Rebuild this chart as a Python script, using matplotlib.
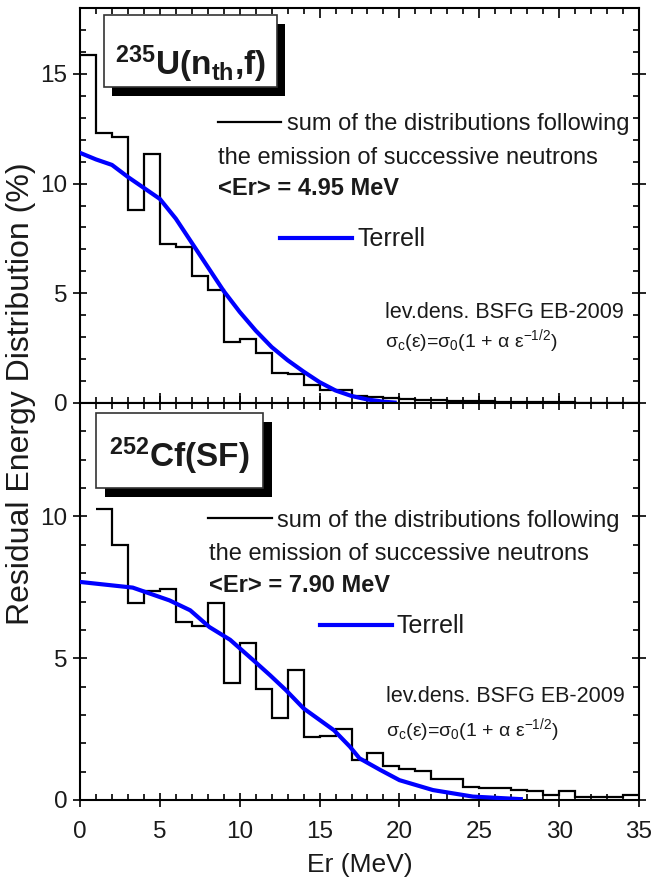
import matplotlib
matplotlib.use("Agg")
import matplotlib.pyplot as plt
import numpy as np
from matplotlib.patches import Rectangle
from matplotlib.lines import Line2D
from matplotlib.ticker import MultipleLocator

plt.rcParams['font.family'] = ['Liberation Sans', 'DejaVu Sans']
plt.rcParams['mathtext.default'] = 'regular'

# ---------------- data ----------------
# 235U(nth,f): histogram, 1 MeV bins from 0 to 35 MeV
u_edges = list(range(0, 36))
u_hist = [15.85, 12.3, 12.1, 8.8, 11.35, 7.25, 7.1, 5.8, 5.15, 2.8,
          2.93, 2.27, 1.38, 1.32, 0.84, 0.61, 0.6, 0.33, 0.26, 0.21,
          0.18, 0.15, 0.13, 0.11, 0.09, 0.07, 0.06, 0.05, 0.04, 0.03,
          0.03, 0.02, 0.02, 0.01, 0.01]
u_terrell_x = [0, 1, 2, 3, 4, 5, 6, 7, 8, 9, 10, 11, 12, 13, 14, 15, 16, 17, 18, 19, 19.7]
u_terrell_y = [11.4, 11.1, 10.85, 10.3, 9.8, 9.3, 8.4, 7.3, 6.2, 5.1, 4.15, 3.3, 2.55,
               1.95, 1.43, 0.95, 0.57, 0.32, 0.16, 0.06, 0.02]

# 252Cf(SF): histogram, 1 MeV bins from 1 to 35 MeV
cf_edges = list(range(1, 36))
cf_hist = [10.27, 8.98, 6.95, 7.36, 7.45, 6.28, 6.13, 6.96, 4.11, 5.55,
           3.90, 2.88, 4.58, 2.23, 2.25, 2.5, 1.41, 1.64, 1.21, 1.09,
           1.03, 0.74, 0.74, 0.47, 0.43, 0.41, 0.35, 0.30, 0.18, 0.32,
           0.09, 0.09, 0.09, 0.18]
cf_terrell_x = [0, 3.3, 5.6, 6.9, 8.1, 9.4, 10.85, 11.9, 12.9, 14.0, 15.9, 16.9,
                17.5, 18.8, 20.0, 22.1, 24.6, 27.6]
cf_terrell_y = [7.69, 7.49, 7.04, 6.69, 6.10, 5.65, 4.93, 4.40, 3.87, 3.23, 2.46, 1.88,
                1.47, 1.06, 0.70, 0.35, 0.12, 0.03]

x_ticks = [0, 5, 10, 15, 20, 25, 30, 35]
u_yticks = [0, 5, 10, 15]
cf_yticks = [0, 5, 10]

# ---------------- figure ----------------
W, H = 651, 889
fig = plt.figure(figsize=(W / 100, H / 100), dpi=100)

def P(px, py):
    return (px / W, 1 - py / H)

ax1 = fig.add_axes([80 / W, 1 - 403 / H, 559 / W, 395 / H])
ax2 = fig.add_axes([80 / W, 1 - 800 / H, 559 / W, 397 / H])

TXT = '#1a1a1a'

for ax, edges, hist, tx, ty, ylim, yt in [
        (ax1, u_edges, u_hist, u_terrell_x, u_terrell_y, 18, u_yticks),
        (ax2, cf_edges, cf_hist, cf_terrell_x, cf_terrell_y, 14, cf_yticks)]:
    ax.stairs(hist, edges, baseline=None, color='black', lw=1.6, zorder=3)
    ax.plot(tx, ty, color='#0000ff', lw=3.0, zorder=4)
    ax.set_xlim(0, 35)
    ax.set_ylim(0, ylim)
    ax.set_xticks(x_ticks)
    ax.set_yticks(yt)
    ax.xaxis.set_minor_locator(MultipleLocator(1))
    ax.yaxis.set_minor_locator(MultipleLocator(1))
    for s in ax.spines.values():
        s.set_linewidth(1.5)
    ax.tick_params(which='both', direction='in', top=True, right=True,
                   width=1.2, colors='black', labelcolor=TXT, labelsize=17.5)
    ax.tick_params(which='major', length=7)
    ax.tick_params(which='minor', length=4.5)
    ax.tick_params(axis='y', which='major', direction='inout', length=10, pad=4)

ax1.tick_params(axis='x', labelbottom=False)
ax2.tick_params(axis='x', which='major', direction='inout', length=10, pad=10)

# ---------------- boxes ----------------
def box(x0, y0, x1, y1, dx, dy):
    a = P(x0 + dx, y1 + dy)
    sh = Rectangle(a, (x1 - x0) / W, (y1 - y0) / H, transform=fig.transFigure,
                   facecolor='black', edgecolor='black', lw=0, zorder=5)
    b = P(x0, y1)
    fr = Rectangle(b, (x1 - x0) / W, (y1 - y0) / H, transform=fig.transFigure,
                   facecolor='white', edgecolor='#333333', lw=1.2, zorder=6)
    fig.add_artist(sh)
    fig.add_artist(fr)

box(104, 15, 277, 87, 8, 9)
box(96, 413, 263, 488, 9, 9)

fig.text(*P(190, 75), r'$^\mathregular{235}$U(n$_\mathregular{th}$,f)', fontsize=24,
         fontweight='bold', ha='center', va='baseline', color=TXT, zorder=7)
fig.text(*P(179.5, 467), r'$^\mathregular{252}$Cf(SF)', fontsize=24,
         fontweight='bold', ha='center', va='baseline', color=TXT, zorder=7)

# ---------------- annotations ----------------
def hline(x0, x1, y, color, lw):
    a, b = P(x0, y), P(x1, y)
    fig.add_artist(Line2D([a[0], b[0]], [a[1], b[1]], color=color, lw=lw,
                          transform=fig.transFigure, zorder=7))

def t(px, py, s, fs, bold=False):
    fig.text(*P(px, py), s, fontsize=fs, fontweight='bold' if bold else 'normal',
             ha='left', va='baseline', color=TXT, zorder=7)

formula = r'σ$_\mathregular{c}$(ε)=σ$_\mathregular{0}$(1 + α ε$^\mathregular{-1/2}$)'

# top panel
hline(218, 281, 122, 'black', 1.6)
t(287, 130, 'sum of the distributions following', 17)
t(218, 164, 'the emission of successive neutrons', 17)
t(218, 195, '<Er> = 4.95 MeV', 17, bold=True)
hline(280, 352, 238, '#0000ff', 3.0)
t(357, 246.5, 'Terrell', 18)
t(385, 318, 'lev.dens. BSFG EB-2009', 15.5)
t(385, 347, formula, 14)

# bottom panel
hline(208, 272, 518, 'black', 1.6)
t(277, 526.5, 'sum of the distributions following', 17)
t(209, 560, 'the emission of successive neutrons', 17)
t(209, 592.5, '<Er> = 7.90 MeV', 17, bold=True)
hline(320, 392, 625, '#0000ff', 3.0)
t(397, 633, 'Terrell', 18)
t(386, 701.5, 'lev.dens. BSFG EB-2009', 15.5)
t(386, 736.5, formula, 14)

# axis labels
fig.text(*P(21, 394), 'Residual Energy Distribution (%)', rotation=90,
         fontsize=23, ha='center', va='center', color=TXT)
fig.text(*P(359.5, 865), 'Er (MeV)', fontsize=19, ha='center', va='center', color=TXT)

fig.savefig('out.png', dpi=100)
